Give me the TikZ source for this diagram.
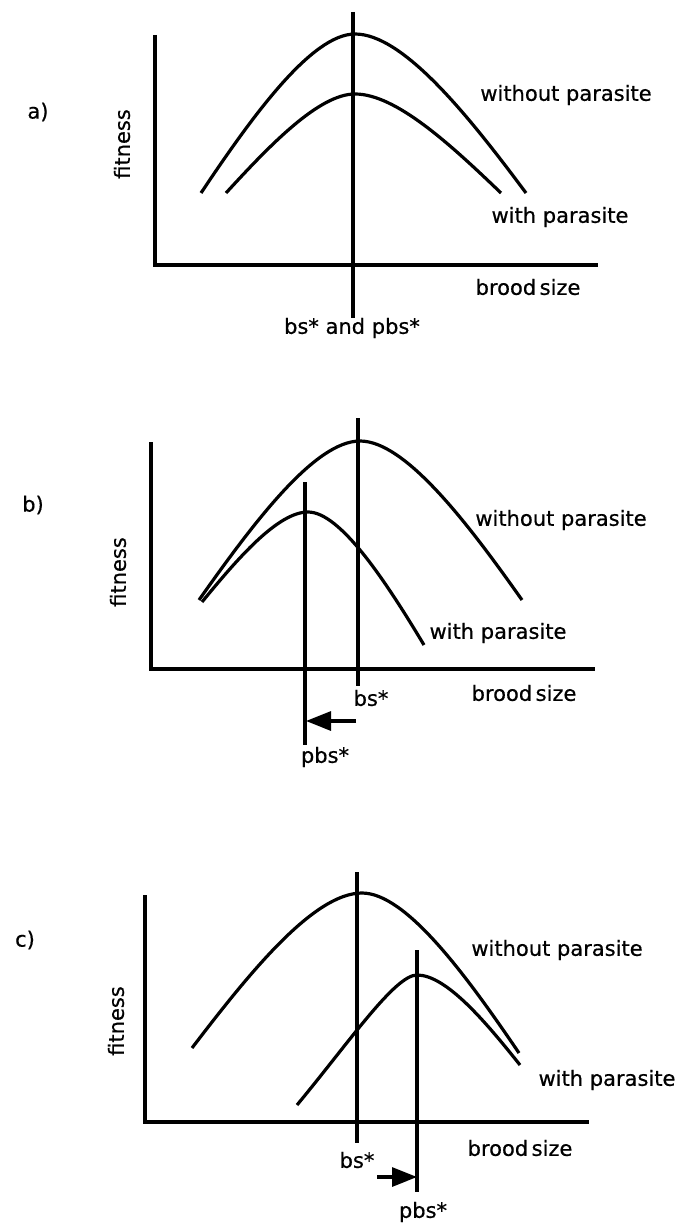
\documentclass[tikz,border=0pt]{standalone}
\usepackage{fontspec}
\setmainfont{DejaVu Sans}[FakeBold=0.6]
\usetikzlibrary{arrows.meta}

\begin{document}
\begin{tikzpicture}[
    x=1pt, y=-1pt,
    axis/.style={line width=3.6pt},
    curve/.style={line width=3.2pt},
    optline/.style={line width=3.2pt},
    shiftarr/.style={-{Triangle[length=25pt, width=19pt]}, line width=3.2pt},
    lbl/.style={font=\fontsize{21}{25}\selectfont, inner sep=0pt},
    ylbl/.style={lbl, rotate=90},
  ]
    \useasboundingbox (0,0) rectangle (683,1225);

    % a) same optimum
    \node[lbl]  (a-tag)   at (38,112)  {a)};
    \node[ylbl] (a-fit)   at (122,144) {fitness};
    \draw[axis] (155,35) -- (155,265) -- (598,265);
    \draw[curve] (201,193) .. controls (253,115) and (312,34) .. (355,34)
                 .. controls (403,34) and (468,115) .. (526,193);
    \draw[curve] (226,193) .. controls (270,145) and (319,94) .. (355,94)
                 .. controls (396,94) and (451,145) .. (501,193);
    \node[lbl]  (a-wo)    at (566,95)  {without parasite};
    \node[lbl]  (a-wi)    at (560,217) {with parasite};
    \node[lbl]  (a-brood) at (528,287) {brood\,size};
    \node[lbl]  (a-opt)   at (352,328) {bs* and pbs*};
    \coordinate (a-top) at (353,12);
    \draw[optline] (a-top) -- (a-top |- a-opt.north);

    % b) optimum shifts down
    \node[lbl]  (b-tag)   at (33,505)  {b)};
    \node[ylbl] (b-fit)   at (118,572) {fitness};
    \draw[axis] (151,442) -- (151,669) -- (595,669);
    \draw[curve] (199,600) .. controls (254,522) and (315,441) .. (360,441)
                 .. controls (405,441) and (467,522) .. (522,600);
    \draw[curve] (202,602) .. controls (238,558) and (278,512) .. (308,512)
                 .. controls (340,512) and (385,580) .. (424,645);
    \node[lbl]  (b-wo)    at (561,520) {without parasite};
    \node[lbl]  (b-wi)    at (498,633) {with parasite};
    \node[lbl]  (b-brood) at (524,693) {brood\,size};
    \node[lbl]  (b-bs)    at (371,698) {bs*};
    \node[lbl]  (b-pbs)   at (325,757) {pbs*};
    \coordinate (b-bstop)  at (358,418);
    \coordinate (b-bsbot)  at (358,686);
    \coordinate (b-pbstop) at (305,482);
    \coordinate (b-pbsbot) at (305,745);
    \draw[optline] (b-bstop) -- (b-bsbot);
    \draw[optline] (b-pbstop) -- (b-pbsbot);
    \coordinate (b-from) at (356,721);
    \coordinate (b-to)   at (306,721);
    \draw[shiftarr] (b-from) -- (b-to);

    % c) optimum shifts up
    \node[lbl]  (c-tag)   at (25,940)   {c)};
    \node[ylbl] (c-fit)   at (116,1021) {fitness};
    \draw[axis] (145,895) -- (145,1122) -- (589,1122);
    \draw[curve] (192,1048) .. controls (250,972) and (314,893) .. (362,893)
                 .. controls (406,893) and (466,975) .. (519,1053);
    \draw[curve] (297,1105) .. controls (350,1041) and (395,975) .. (417,975)
                 .. controls (446,975) and (485,1021) .. (520,1065);
    \node[lbl]  (c-wo)    at (557,950)  {without parasite};
    \node[lbl]  (c-wi)    at (607,1080) {with parasite};
    \node[lbl]  (c-brood) at (520,1148) {brood\,size};
    \node[lbl]  (c-bs)    at (357,1160) {bs*};
    \node[lbl]  (c-pbs)   at (423,1212) {pbs*};
    \coordinate (c-bstop)  at (357,872);
    \coordinate (c-bsbot)  at (357,1143);
    \coordinate (c-pbstop) at (417,950);
    \coordinate (c-pbsbot) at (417,1192);
    \draw[optline] (c-bstop) -- (c-bsbot);
    \draw[optline] (c-pbstop) -- (c-pbsbot);
    \coordinate (c-from) at (377,1177);
    \coordinate (c-to)   at (417,1177);
    \draw[shiftarr] (c-from) -- (c-to);
\end{tikzpicture}
\end{document}
